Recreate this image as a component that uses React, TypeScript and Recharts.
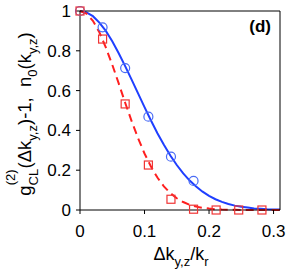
import React from 'react';
import { ComposedChart, Line, Scatter, XAxis, YAxis } from 'recharts';

// fitted curves, sampled every 0.01 in Δk/k_r
const curveX = [0, 0.01, 0.02, 0.03, 0.04, 0.05, 0.06, 0.07, 0.08, 0.09, 0.1, 0.11, 0.12, 0.13, 0.14, 0.15, 0.16, 0.17, 0.18, 0.19, 0.2, 0.21, 0.22, 0.23, 0.24, 0.25, 0.26, 0.27, 0.28, 0.29, 0.3, 0.31];
const blueCurve = [1, 0.993, 0.974, 0.942, 0.9, 0.848, 0.788, 0.723, 0.655, 0.586, 0.517, 0.45, 0.386, 0.328, 0.274, 0.226, 0.184, 0.148, 0.118, 0.092, 0.071, 0.054, 0.041, 0.03, 0.022, 0.016, 0.012, 0.008, 0.006, 0.004, 0.003, 0.002];
const redCurve = [1, 0.987, 0.951, 0.893, 0.817, 0.73, 0.636, 0.539, 0.447, 0.361, 0.284, 0.218, 0.163, 0.119, 0.085, 0.059, 0.04, 0.026, 0.017, 0.011, 0.007, 0.004, 0.002, 0.001, 0.001, 0, 0, 0, 0, 0, 0, 0];

// measured points
const circleX = [0, 0.035, 0.07, 0.106, 0.141, 0.176];
const circleY = [1, 0.918, 0.713, 0.469, 0.268, 0.146];
const squareX = [0, 0.035, 0.07, 0.106, 0.141, 0.176, 0.211, 0.246, 0.282];
const squareY = [1, 0.859, 0.533, 0.226, 0.054, 0.004, 0, 0, 0];

const xTicks = [0, 0.1, 0.2, 0.3];
const yTicks = [0, 0.2, 0.4, 0.6, 0.8, 1];

const blueData = curveX.map((x, i) => ({ x, y: blueCurve[i] }));
const redData = curveX.map((x, i) => ({ x, y: redCurve[i] }));
const circles = circleX.map((x, i) => ({ x, y: circleY[i] }));
const squares = squareX.map((x, i) => ({ x, y: squareY[i] }));

const FONT = '"Liberation Sans", Arial, sans-serif';
const BLUE = '#1f3fff';
const RED = '#ff1f1f';

const fmt = (v: number) => (v === 0 ? '0' : v === 1 ? '1' : String(v));

const OpenCircle = (p: any) => (
  <circle cx={p.cx} cy={p.cy} r={4.5} fill="none" stroke="#4a6cf5" strokeWidth={1.2} />
);
const OpenSquare = (p: any) => (
  <rect x={p.cx - 4} y={p.cy - 4} width={8} height={8} fill="none" stroke="#f03434" strokeWidth={1.2} />
);

export default function App() {
  return (
    <div style={{ position: 'absolute', left: 0, top: 0, width: 291, height: 273, fontFamily: FONT }}>
      <ComposedChart width={291} height={273} margin={{ top: 5, right: 5, bottom: 0, left: 0 }}>
        <XAxis
          dataKey="x"
          type="number"
          domain={[0, 0.31]}
          ticks={xTicks}
          interval={0}
          tickFormatter={fmt}
          height={63}
          tickSize={4}
          tickMargin={11}
          stroke="#000"
          tick={{ fill: '#000', fontSize: 17, fontFamily: FONT }}
        />
        <XAxis
          xAxisId="top"
          orientation="top"
          type="number"
          domain={[0, 0.31]}
          ticks={xTicks}
          height={6}
          tickSize={5}
          tick={false}
          stroke="#000"
        />
        <YAxis
          dataKey="y"
          type="number"
          domain={[0, 1]}
          ticks={yTicks}
          interval={0}
          tickFormatter={fmt}
          width={80}
          tickSize={4}
          tickMargin={5}
          stroke="#000"
          tick={{ fill: '#000', fontSize: 17, fontFamily: FONT }}
        />
        <YAxis
          yAxisId="right"
          orientation="right"
          type="number"
          domain={[0, 1]}
          ticks={yTicks}
          width={6}
          tickSize={5}
          tick={false}
          stroke="#000"
        />
        <Line data={blueData} dataKey="y" stroke={BLUE} strokeWidth={2} dot={false} isAnimationActive={false} type="linear" />
        <Line data={redData} dataKey="y" stroke={RED} strokeWidth={2} strokeDasharray="8 5" dot={false} isAnimationActive={false} type="linear" />
        <Scatter data={circles} dataKey="y" shape={OpenCircle} isAnimationActive={false} />
        <Scatter data={squares} dataKey="y" shape={OpenSquare} isAnimationActive={false} />
      </ComposedChart>
      <svg width={291} height={273} style={{ position: 'absolute', left: 0, top: 0, pointerEvents: 'none' }}>
        <text x={271} y={32} textAnchor="end" fontSize={17} fontWeight="bold" fontFamily={FONT} fill="#000">(d)</text>
        <text x={181} y={260} textAnchor="middle" fontSize={18} fontFamily={FONT} fill="#000">
          Δk<tspan fontSize={13} dy={6}>y,z</tspan>
          <tspan dy={-6}>/k</tspan>
          <tspan fontSize={13} dy={6}>r</tspan>
        </text>
        <text
          transform="translate(31,114) rotate(-90)"
          textAnchor="middle"
          fontSize={18.5}
          fontFamily={FONT}
          fill="#000"
          style={{ whiteSpace: 'pre' }}
        >
          g<tspan fontSize={13} dy={7}>CL</tspan>
          <tspan fontSize={13} dx={-16.5} dy={-23}>(2)</tspan>
          <tspan dx={1} dy={16}>(Δk</tspan>
          <tspan fontSize={13} dy={6}>y,z</tspan>
          <tspan dy={-6}>)-1,  n</tspan>
          <tspan fontSize={13} dy={6}>0</tspan>
          <tspan dy={-6}>(k</tspan>
          <tspan fontSize={13} dy={6}>y,z</tspan>
          <tspan dy={-6}>)</tspan>
        </text>
      </svg>
    </div>
  );
}
